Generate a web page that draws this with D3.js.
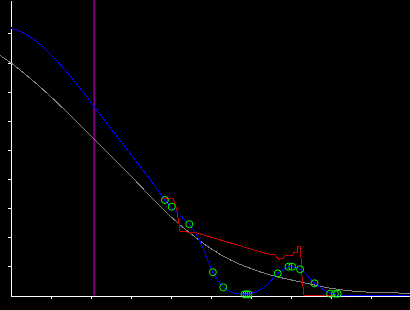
<!DOCTYPE html>
<html>
<head>
<meta charset="utf-8">
<script src="https://cdn.jsdelivr.net/npm/d3@7"></script>
<style>
	body { margin: 0; background: #000; }
	svg { display: block; }
</style>
</head>
<body>
<div id="chart"></div>
<script>
////////////////////////////////////////
// data
////////////////////////////////////////

// grey reference curve
var greyX = [-0.27, 0, 0.5, 1.0, 1.5, 2.0, 2.5, 3.0, 3.5, 4.0, 4.5, 5.0, 5.5, 6.0, 6.5, 7.0, 7.5, 8.0, 8.5, 9.0, 9.5, 10.0];
var greyY = [8.25, 8.00, 7.45, 6.84, 6.18, 5.50, 4.80, 4.12, 3.40, 2.72, 2.13, 1.62, 1.22, 0.93, 0.70, 0.54, 0.39, 0.25, 0.16, 0.11, 0.09, 0.08];

// blue fitted curve
var blueX = [0, 0.25, 0.5, 0.75, 1.0, 1.25, 1.5, 1.75, 2.0, 2.25, 2.5, 3.0, 3.5, 3.86, 4.24, 4.49, 4.74, 5.07, 5.32, 5.74, 5.99, 6.41, 6.66, 6.99, 7.24, 7.61, 7.99, 8.24, 10.0];
var blueY = [9.20, 9.07, 8.87, 8.61, 8.28, 7.92, 7.52, 7.10, 6.65, 6.20, 5.75, 4.86, 3.97, 3.28, 2.73, 2.42, 1.85, 0.78, 0.28, 0.05, 0.08, 0.36, 0.73, 0.99, 0.90, 0.42, 0.08, 0, 0];

// red running line
var redX = [3.78, 4.07, 4.16, 4.24, 4.61, 6.36, 6.61, 6.71, 6.82, 6.86, 7.05, 7.07, 7.17, 7.18, 7.24, 7.25, 7.28, 7.29, 7.34, 10.0];
var redY = [3.34, 3.34, 2.94, 2.19, 2.17, 1.45, 1.39, 1.24, 1.28, 1.36, 1.36, 1.47, 1.47, 1.68, 1.68, 1.47, 1.05, 0.53, 0, 0];

// observed points (green rings)
var pointX = [3.86, 4.03, 4.47, 5.06, 5.32, 5.85, 5.90, 5.95, 6.68, 6.95, 7.04, 7.24, 7.60, 7.99, 8.11, 8.18];
var pointY = [3.28, 3.05, 2.45, 0.80, 0.28, 0.04, 0.04, 0.04, 0.76, 0.99, 0.99, 0.90, 0.42, 0.06, 0.06, 0.06];

// vertical marker
var markerX = [2.095];

// tick positions (no labels)
var xTicks = [1, 2, 3, 4, 5, 6, 7, 8, 9];
var yTicks = [1, 2, 3, 4, 5, 6, 7, 8, 9];

////////////////////////////////////////

var width  = 410;
var height = 310;

var x = d3.scaleLinear().domain([0, 10]).range([10.5, 410.5]);
var y = d3.scaleLinear().domain([0, 10.15]).range([295.5, 0]);

var svg = d3.select("#chart").append("svg")
	.attr("width", width)
	.attr("height", height);

svg.append("rect")
	.attr("width", width)
	.attr("height", height)
	.attr("fill", "#000");

function pairs(xs, ys) {
	return xs.map(function(d, i) { return [d, ys[i]]; });
}

var line = d3.line()
	.x(function(d) { return x(d[0]); })
	.y(function(d) { return y(d[1]); });

// axes
svg.append("g")
	.attr("transform", "translate(0," + y(0) + ")")
	.call(d3.axisBottom(x).tickValues(xTicks).tickSize(3).tickSizeOuter(0).tickFormat(""));

svg.append("g")
	.attr("transform", "translate(" + x(0) + ",0)")
	.call(d3.axisLeft(y).tickValues(yTicks).tickSize(3).tickSizeOuter(0).tickFormat(""));

svg.selectAll(".domain, .tick line")
	.attr("stroke", "#fff")
	.attr("stroke-width", 1)
	.attr("shape-rendering", "crispEdges");

// purple marker line
svg.selectAll(".marker")
	.data(markerX)
	.enter().append("line")
	.attr("class", "marker")
	.attr("x1", function(d) { return x(d); })
	.attr("x2", function(d) { return x(d); })
	.attr("y1", 0)
	.attr("y2", y(0))
	.attr("stroke", "#800080")
	.attr("stroke-width", 2);

// grey curve
svg.append("path")
	.datum(pairs(greyX, greyY))
	.attr("d", line.curve(d3.curveMonotoneX))
	.attr("fill", "none")
	.attr("stroke", "#808080")
	.attr("stroke-width", 1)
	.attr("shape-rendering", "crispEdges");

// red line
svg.append("path")
	.datum(pairs(redX, redY))
	.attr("d", line.curve(d3.curveLinear))
	.attr("fill", "none")
	.attr("stroke", "#cc0000")
	.attr("stroke-width", 1)
	.attr("shape-rendering", "crispEdges");

// blue curve
svg.append("path")
	.datum(pairs(blueX, blueY))
	.attr("d", line.curve(d3.curveMonotoneX))
	.attr("fill", "none")
	.attr("stroke", "#0000ff")
	.attr("stroke-width", 1)
	.attr("shape-rendering", "crispEdges");

// points
var pts = pairs(pointX, pointY);

svg.selectAll(".ring")
	.data(pts)
	.enter().append("circle")
	.attr("class", "ring")
	.attr("cx", function(d) { return x(d[0]); })
	.attr("cy", function(d) { return y(d[1]); })
	.attr("r", 3.5)
	.attr("fill", "none")
	.attr("stroke", "#00ff00")
	.attr("stroke-width", 1);

svg.selectAll(".dot")
	.data(pts)
	.enter().append("rect")
	.attr("class", "dot")
	.attr("x", function(d) { return Math.floor(x(d[0])); })
	.attr("y", function(d) { return Math.floor(y(d[1])); })
	.attr("width", 1)
	.attr("height", 1)
	.attr("fill", "#0000ff");
</script>
</body>
</html>
